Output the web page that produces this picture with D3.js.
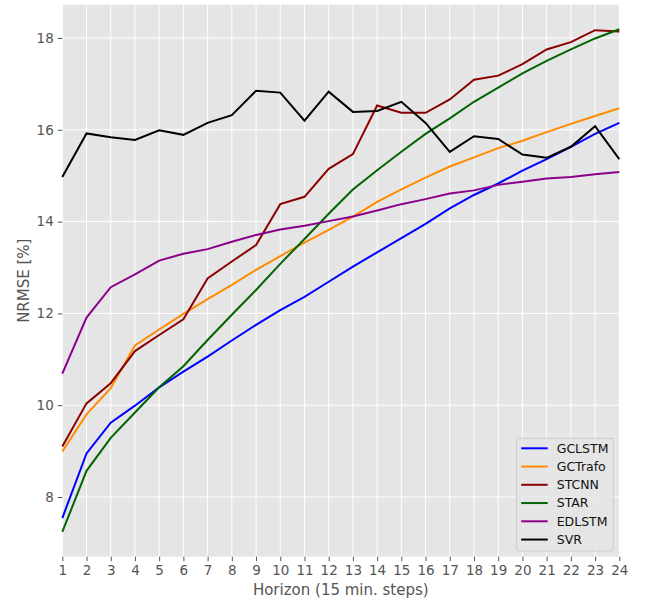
<!DOCTYPE html>
<html>
<head>
<meta charset="utf-8">
<script src="https://cdn.jsdelivr.net/npm/d3@7"></script>
<style>
  html, body { margin: 0; padding: 0; background: #fff; }
  svg text { font-family: "DejaVu Sans", sans-serif; }
</style>
</head>
<body>
<svg id="chart" width="652" height="601"></svg>
<script>
const horizons = d3.range(1, 25);
const yTicks = [8, 10, 12, 14, 16, 18];
const seriesNames = ["GCLSTM", "GCTrafo", "STCNN", "STAR", "EDLSTM", "SVR"];
const seriesColors = ["#0000ff", "#ff8c00", "#8b0000", "#006400", "#8b008b", "#000000"];

const GCLSTM = [7.54, 8.95, 9.62, 9.99, 10.39, 10.73, 11.06, 11.41, 11.75, 12.07, 12.36, 12.69,
                13.02, 13.33, 13.64, 13.95, 14.29, 14.58, 14.83, 15.11, 15.36, 15.63, 15.91, 16.15];
const GCTrafo = [8.99, 9.80, 10.37, 11.30, 11.65, 11.99, 12.31, 12.62, 12.95, 13.25, 13.54, 13.82,
                 14.11, 14.43, 14.70, 14.96, 15.20, 15.40, 15.60, 15.76, 15.95, 16.13, 16.30, 16.47];
const STCNN = [9.10, 10.04, 10.48, 11.18, 11.53, 11.87, 12.76, 13.13, 13.49, 14.38, 14.54, 15.15,
               15.47, 16.53, 16.37, 16.37, 16.66, 17.09, 17.18, 17.43, 17.75, 17.91, 18.17, 18.14];
const STAR = [7.24, 8.57, 9.29, 9.84, 10.39, 10.85, 11.42, 11.97, 12.51, 13.08, 13.62, 14.17,
              14.70, 15.12, 15.52, 15.91, 16.25, 16.61, 16.92, 17.23, 17.50, 17.75, 17.99, 18.19];
const EDLSTM = [10.69, 11.91, 12.57, 12.85, 13.15, 13.30, 13.40, 13.56, 13.71, 13.83, 13.91, 14.01,
                14.11, 14.24, 14.38, 14.49, 14.61, 14.68, 14.80, 14.87, 14.94, 14.97, 15.03, 15.08];
const SVR = [14.97, 15.92, 15.84, 15.78, 15.99, 15.89, 16.15, 16.32, 16.85, 16.81, 16.20, 16.83,
             16.39, 16.41, 16.61, 16.15, 15.52, 15.86, 15.80, 15.46, 15.39, 15.63, 16.08, 15.36];

const seriesValues = [GCLSTM, GCTrafo, STCNN, STAR, EDLSTM, SVR];

const svg = d3.select("#chart");
const margin = { left: 62.3, right: 652 - 619.3, top: 4.7, bottom: 601 - 556.7 };
const W = 652 - margin.left - margin.right;
const H = 601 - margin.top - margin.bottom;

const x = d3.scaleLinear().domain([1, 24]).range([0, W]);
const y = d3.scaleLinear().domain([6.70, 18.725]).range([H, 0]);

const g = svg.append("g").attr("transform", `translate(${margin.left},${margin.top})`);

g.append("rect").attr("width", W).attr("height", H).attr("fill", "#e5e5e5");

// grid
g.append("g").selectAll("line").data(horizons).join("line")
  .attr("x1", d => x(d)).attr("x2", d => x(d)).attr("y1", 0).attr("y2", H)
  .attr("stroke", "#fff").attr("stroke-width", 1);
g.append("g").selectAll("line").data(yTicks).join("line")
  .attr("y1", d => y(d)).attr("y2", d => y(d)).attr("x1", 0).attr("x2", W)
  .attr("stroke", "#fff").attr("stroke-width", 1);

// axes
const xAxis = d3.axisBottom(x).tickValues(horizons).tickFormat(d3.format("d")).tickSize(4.5).tickPadding(4);
const yAxis = d3.axisLeft(y).tickValues(yTicks).tickFormat(d3.format("d")).tickSize(4.5).tickPadding(4);

const gx = g.append("g").attr("transform", `translate(0,${H})`).call(xAxis);
const gy = g.append("g").call(yAxis);
[gx, gy].forEach(a => {
  a.select(".domain").remove();
  a.selectAll(".tick line").attr("stroke", "#555").attr("stroke-width", 1);
  a.selectAll(".tick text").attr("fill", "#555").style("font-size", "13.5px")
    .style("font-family", "'DejaVu Sans', sans-serif");
});

// lines
const line = d3.line().x((d, i) => x(horizons[i])).y(d => y(d));
seriesValues.forEach((vals, k) => {
  g.append("path").datum(vals).attr("d", line)
    .attr("fill", "none").attr("stroke", seriesColors[k]).attr("stroke-width", 2)
    .attr("stroke-linejoin", "miter");
});

// axis labels
svg.append("text").attr("x", margin.left + W / 2).attr("y", 595)
  .attr("text-anchor", "middle").attr("fill", "#555").style("font-size", "15px")
  .text("Horizon (15 min. steps)");
svg.append("text").attr("transform", `translate(29,${margin.top + H / 2}) rotate(-90)`)
  .attr("text-anchor", "middle").attr("fill", "#555").style("font-size", "15px")
  .text("NRMSE [%]");

// legend
const lg = svg.append("g").attr("transform", "translate(516.7,438.3)");
lg.append("rect").attr("width", 96.6).attr("height", 112.7).attr("rx", 2)
  .attr("fill", "#e5e5e5").attr("fill-opacity", 0.8).attr("stroke", "#cccccc").attr("stroke-width", 1);
seriesNames.forEach((name, k) => {
  const yy = 10 + k * 18.25;
  lg.append("line").attr("x1", 4.5).attr("x2", 31).attr("y1", yy).attr("y2", yy)
    .attr("stroke", seriesColors[k]).attr("stroke-width", 2);
  lg.append("text").attr("x", 40).attr("y", yy).attr("dy", "0.35em")
    .attr("fill", "#111").style("font-size", "12.5px").text(name);
});
</script>
</body>
</html>
